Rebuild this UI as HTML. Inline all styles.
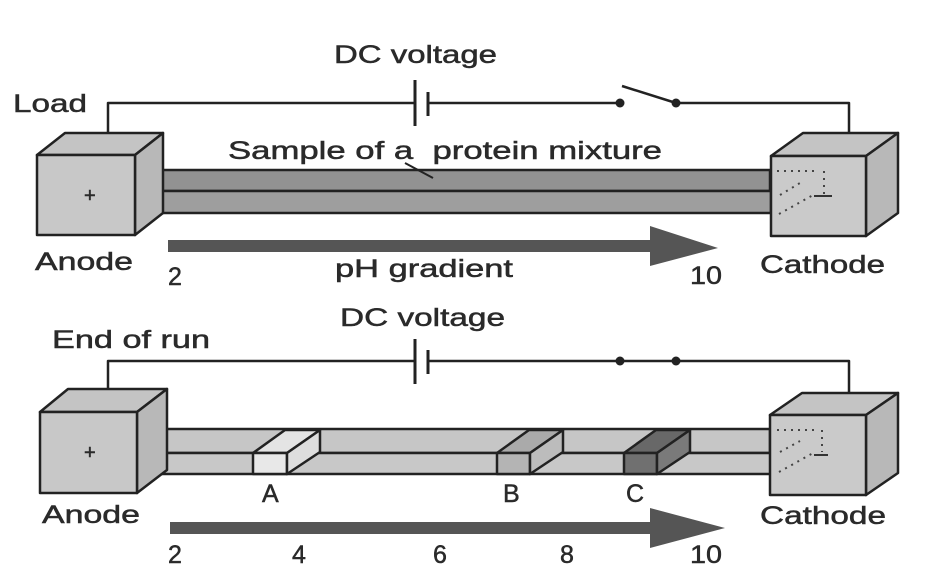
<!DOCTYPE html>
<html><head><meta charset="utf-8"><style>
html,body{margin:0;padding:0;background:#fff}
svg{display:block}
text{font-family:"Liberation Sans",sans-serif;font-size:25px;fill:#2a2a2a;stroke:#2a2a2a;stroke-width:0.5}
</style></head><body>
<svg width="936" height="580" viewBox="0 0 936 580" xmlns="http://www.w3.org/2000/svg">
<g stroke="#222" stroke-width="2.5" stroke-linejoin="round">
<!-- TOP -->
<polyline points="108,150 108,103 415,103" fill="none"/>
<line x1="415" y1="80" x2="415" y2="126" stroke-width="3"/>
<line x1="428" y1="92" x2="428" y2="116" stroke-width="3"/>
<line x1="428" y1="103" x2="620" y2="103"/>
<line x1="622" y1="86" x2="676" y2="103"/>
<polyline points="676,103 849,103 849,152" fill="none"/>
<!-- bar -->
<polygon points="135,191 163,170 770,170 770,191" fill="#929292"/>
<rect x="135" y="191" width="636" height="22" fill="#9e9e9e"/>
<!-- anode box -->
<polygon points="37,155 65,133 163,133 135,155" fill="#c4c4c4"/>
<polygon points="135,155 163,133 163,213 135,235" fill="#b8b8b8"/>
<rect x="37" y="155" width="98" height="80" fill="#c8c8c8"/>
<!-- cathode box -->
<polygon points="771,156 803,133 898,133 866,156" fill="#c4c4c4"/>
<polygon points="866,156 898,133 898,213 866,236" fill="#b8b8b8"/>
<rect x="771" y="156" width="95" height="80" fill="#cacaca"/>
<line x1="405" y1="163" x2="433" y2="178" stroke-width="2"/>
<!-- BOTTOM -->
<polyline points="108,410 108,361 415,361" fill="none"/>
<line x1="415" y1="339" x2="415" y2="384" stroke-width="3"/>
<line x1="428" y1="350" x2="428" y2="374" stroke-width="3"/>
<polyline points="428,361 849,361 849,410" fill="none"/>
<polygon points="137,453 167,429 770,429 770,453" fill="#c6c6c6"/>
<rect x="137" y="453" width="634" height="21" fill="#c8c8c8"/>
<!-- bands -->
<polygon points="253,453 285,430 320,430 287,453" fill="#e4e4e4"/>
<rect x="253" y="453" width="34" height="21" fill="#e8e8e8"/>
<polygon points="287,453 320,430 320,452 287,474" fill="#dedede"/>
<polygon points="497,453 529,430 563,430 530,453" fill="#aaaaaa"/>
<rect x="497" y="453" width="33" height="21" fill="#b4b4b4"/>
<polygon points="530,453 563,430 563,452 530,474" fill="#bcbcbc"/>
<polygon points="624,453 656,430 690,430 657,453" fill="#686868"/>
<rect x="624" y="453" width="33" height="21" fill="#707070"/>
<polygon points="657,453 690,430 690,452 657,474" fill="#7a7a7a"/>
<polygon points="40,412 68,389 167,389 137,412" fill="#c4c4c4"/>
<polygon points="137,412 167,389 167,470 137,493" fill="#b8b8b8"/>
<rect x="40" y="412" width="97" height="81" fill="#c8c8c8"/>
<polygon points="770,415 802,393 898,393 866,415" fill="#c4c4c4"/>
<polygon points="866,415 898,393 898,473 866,495" fill="#b8b8b8"/>
<rect x="770" y="415" width="96" height="80" fill="#cacaca"/>
</g>
<g fill="#222">
<circle cx="620" cy="103" r="4.5"/><circle cx="676" cy="103" r="4.5"/>
<circle cx="620" cy="361" r="4.5"/><circle cx="676" cy="361" r="4.5"/>
</g>
<g stroke="#444" stroke-width="2" stroke-dasharray="2 5" fill="none">
<polyline points="777,171 815,171"/><line x1="824" y1="171" x2="824" y2="196"/>
<line x1="779" y1="214" x2="815" y2="194"/><line x1="780" y1="195" x2="800" y2="183"/>
<polyline points="777,430 815,430"/><line x1="822" y1="430" x2="822" y2="452"/>
<line x1="779" y1="472" x2="815" y2="452"/><line x1="780" y1="452" x2="800" y2="441"/>
</g>
<line x1="814" y1="196" x2="832" y2="196" stroke="#333" stroke-width="2"/>
<line x1="814" y1="455" x2="828" y2="455" stroke="#333" stroke-width="2"/>
<g fill="#555">
<polygon points="168,240 650,240 650,226 718,248 650,266 650,252 168,252"/>
<polygon points="170,522 650,522 650,508 725,528 650,548 650,534 170,534"/>
</g>
<text x="334" y="63" textLength="163" lengthAdjust="spacingAndGlyphs">DC voltage</text>
<text x="13" y="112" textLength="74" lengthAdjust="spacingAndGlyphs">Load</text>
<text x="228" y="159" textLength="434" lengthAdjust="spacingAndGlyphs" xml:space="preserve">Sample of a  protein mixture</text>
<text x="35" y="270" textLength="98" lengthAdjust="spacingAndGlyphs">Anode</text>
<text x="168" y="285">2</text>
<text x="335" y="277" textLength="178" lengthAdjust="spacingAndGlyphs">pH gradient</text>
<text x="690" y="284" textLength="32" lengthAdjust="spacingAndGlyphs">10</text>
<text x="760" y="273" textLength="125" lengthAdjust="spacingAndGlyphs">Cathode</text>
<text x="84" y="202" style="font-size:20px">+</text>
<text x="340" y="326" textLength="165" lengthAdjust="spacingAndGlyphs">DC voltage</text>
<text x="52" y="348" textLength="158" lengthAdjust="spacingAndGlyphs">End of run</text>
<text x="262" y="502">A</text>
<text x="503" y="502">B</text>
<text x="626" y="502">C</text>
<text x="42" y="523" textLength="98" lengthAdjust="spacingAndGlyphs">Anode</text>
<text x="760" y="524" textLength="126" lengthAdjust="spacingAndGlyphs">Cathode</text>
<text x="84" y="459" style="font-size:20px">+</text>
<text x="168" y="563">2</text>
<text x="292" y="563">4</text>
<text x="433" y="563">6</text>
<text x="560" y="563">8</text>
<text x="690" y="563" textLength="32" lengthAdjust="spacingAndGlyphs">10</text>
</svg>
</body></html>
